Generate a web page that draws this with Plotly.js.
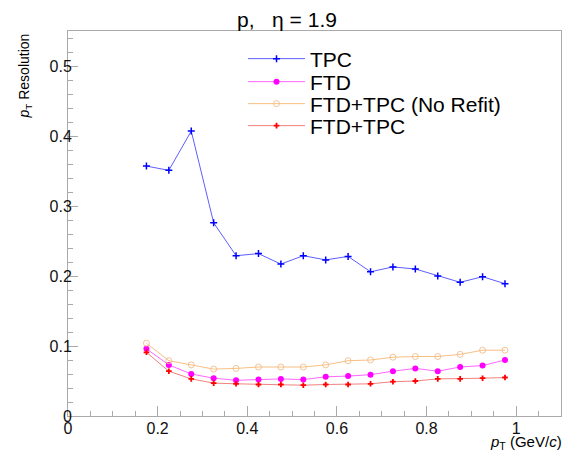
<!DOCTYPE html>
<html>
<head>
<meta charset="utf-8">
<script src="https://cdn.plot.ly/plotly-3.0.1.min.js"></script>
<style>html,body{margin:0;padding:0;background:#fff;}#chart{width:562px;height:455px;}</style>
</head>
<body>
<div id="chart"></div>
<script>
const pt = [0.175,0.225,0.275,0.325,0.375,0.425,0.475,0.525,0.575,0.625,0.675,0.725,0.775,0.825,0.875,0.925,0.975];
const tpc = [0.357,0.351,0.407,0.276,0.229,0.232,0.217,0.229,0.223,0.228,0.206,0.213,0.210,0.200,0.191,0.199,0.189];
const ftd = [0.096,0.073,0.060,0.054,0.051,0.052,0.053,0.052,0.056,0.057,0.059,0.064,0.068,0.064,0.070,0.072,0.080];
const ftdTpcNoRefit = [0.104,0.079,0.073,0.067,0.068,0.070,0.070,0.070,0.073,0.079,0.080,0.084,0.085,0.085,0.088,0.094,0.094];
const ftdTpc = [0.091,0.064,0.053,0.047,0.046,0.045,0.045,0.044,0.045,0.045,0.046,0.049,0.050,0.053,0.053,0.054,0.055];
const names = ["TPC","FTD","FTD+TPC (No Refit)","FTD+TPC"];

const F = "Liberation Sans, Arial, Helvetica, sans-serif";
const traces = [
  {x: pt, y: tpc, name: names[0], mode: "lines+markers", legend: "legend",
   line: {color: "rgba(40,40,255,0.75)", width: 1},
   marker: {symbol: "cross-thin", size: 5, color: "#0000ff", line: {color: "#0000ff", width: 1.5}}},
  {x: pt, y: ftd, name: names[1], mode: "lines+markers", legend: "legend2",
   line: {color: "rgba(255,0,255,0.6)", width: 1},
   marker: {symbol: "circle", size: 6, color: "#ff00ff"}},
  {x: pt, y: ftdTpcNoRefit, name: names[2], mode: "lines+markers", legend: "legend3",
   line: {color: "rgba(245,170,90,0.75)", width: 1},
   marker: {symbol: "circle-open", size: 6, color: "rgba(240,190,140,0.9)", line: {width: 1}}},
  {x: pt, y: ftdTpc, name: names[3], mode: "lines+markers", legend: "legend4",
   line: {color: "rgba(235,60,60,0.65)", width: 1},
   marker: {symbol: "cross-thin", size: 4, color: "#ff0000", line: {color: "#ff0000", width: 1.8}}}
];

const legRow = yPix => ({x: 0.355, y: (416 - yPix) / 385, xanchor: "left", yanchor: "middle",
  bgcolor: "rgba(0,0,0,0)", font: {family: F, size: 21, color: "#000"}, itemwidth: 57});

const layout = {
  width: 562, height: 455,
  margin: {l: 68, r: 1, t: 31, b: 39, pad: 0},
  paper_bgcolor: "#fff", plot_bgcolor: "#fff",
  font: {family: F, color: "#000", size: 16},
  title: {text: "p,\u00a0\u00a0\u00a0\u03b7 = 1.9", font: {family: F, size: 21, color: "#000"},
          x: 287/562, xanchor: "center", xref: "container", y: 1 - 20/455, yanchor: "middle", yref: "container"},
  showlegend: true,
  legend: legRow(59),
  legend2: legRow(82),
  legend3: legRow(104),
  legend4: legRow(126),
  xaxis: {range: [0, 1.1], dtick: 0.2, tick0: 0, ticks: "inside", ticklen: 10, tickwidth: 1, tickcolor: "#aaa",
          showline: true, linecolor: "#aaa", linewidth: 1, mirror: true, showgrid: false, zeroline: false,
          ticklabelstandoff: -2,
          tickfont: {family: F, size: 16, color: "#111"},
          minor: {dtick: 0.05, ticks: "inside", ticklen: 5, tickcolor: "#aaa", showgrid: false}},
  yaxis: {range: [0, 0.55], dtick: 0.1, tick0: 0, ticks: "inside", ticklen: 10, tickwidth: 1, tickcolor: "#aaa",
          showline: true, linecolor: "#aaa", linewidth: 1, mirror: true, showgrid: false, zeroline: false,
          ticklabelstandoff: -8,
          tickfont: {family: F, size: 16, color: "#111"},
          minor: {dtick: 0.02, ticks: "inside", ticklen: 5, tickcolor: "#aaa", showgrid: false}},
  annotations: [
    {text: "<i>p</i><sub>T</sub> (GeV/<i>c</i>)", xref: "paper", yref: "paper", x: 1, xshift: 3, y: (416 - 443) / 385,
     xanchor: "right", yanchor: "middle", showarrow: false, font: {family: F, size: 15, color: "#000"}},
    {text: "<i>p</i><sub>T</sub> Resolution", xref: "paper", yref: "paper", x: -0.065, y: 1,
     xanchor: "right", yanchor: "top", textangle: -90, showarrow: false, font: {family: F, size: 14, color: "#000"}}
  ]
};

Plotly.newPlot("chart", traces, layout, {displayModeBar: false, staticPlot: true});
</script>
</body>
</html>
